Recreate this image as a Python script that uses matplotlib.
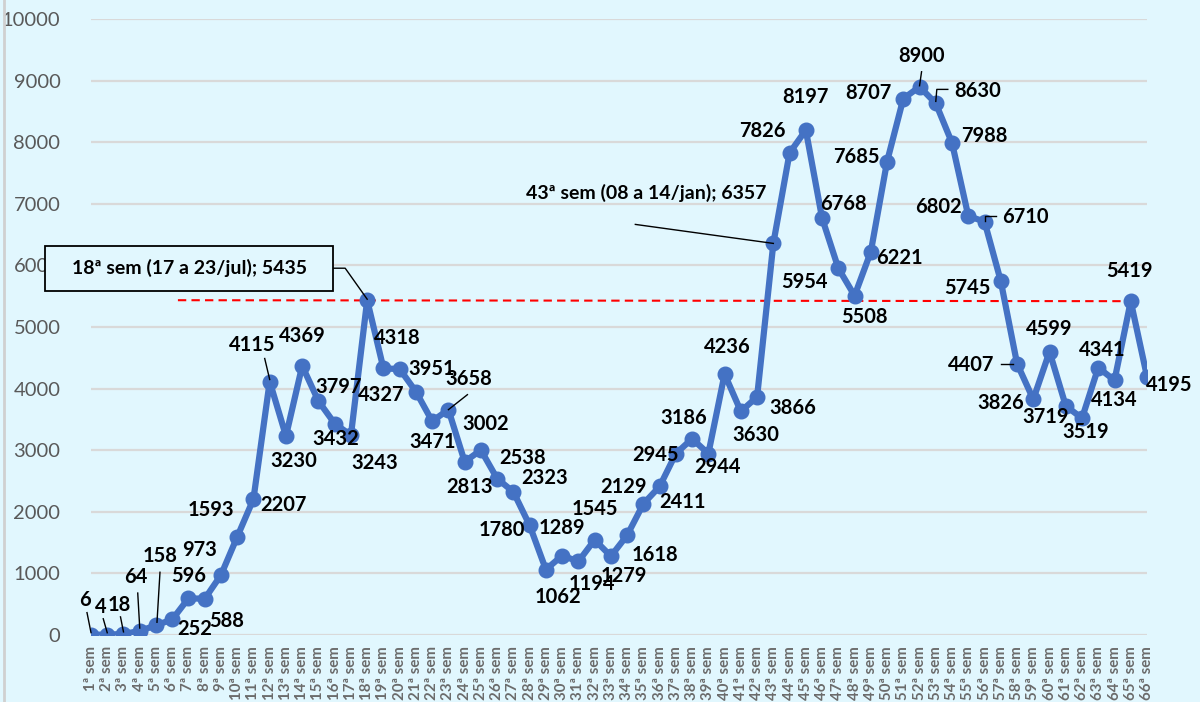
import numpy as np
import matplotlib
matplotlib.use("Agg")
import matplotlib.pyplot as plt
from matplotlib.lines import Line2D
from matplotlib.patches import Rectangle
from matplotlib.transforms import IdentityTransform

plt.rcParams['font.family'] = ['Lato', 'DejaVu Sans']

# weekly values
semanas = [f"{i}ª sem" for i in range(1, 67)]
valores = [6, 4, 18, 64, 158, 252, 596, 588, 973, 1593,
           2207, 4115, 3230, 4369, 3797, 3432, 3243, 5435, 4327, 4318,
           3951, 3471, 3658, 2813, 3002, 2538, 2323, 1780, 1062, 1289,
           1194, 1545, 1279, 1618, 2129, 2411, 2945, 3186, 2944, 4236,
           3630, 3866, 6357, 7826, 8197, 6768, 5954, 5508, 6221, 7685,
           8707, 8900, 8630, 7988, 6802, 6710, 5745, 4407, 3826, 4599,
           3719, 3519, 4341, 4134, 5419, 4195]

# label offsets in pixels (dx, dy up) from each point
offs = [(-6, 35), (-6, 28), (-4, 29), (-4, 54), (4, 69), (22, -10), (0, 22), (22, -22), (-21, 25), (-26, 27),
        (30, -6), (-18, 37), (8, -25), (0, 30), (20, 14), (1, -15), (24, -28), None, (-2, -27), (-2, 31),
        (16, 23), (0, -21), (20, 31), (5, -25), (5, 26), (25, 21), (31, 14), (-28, -5), (12, -27), (0, 28),
        (14, -23), (0, 31), (13, -20), (28, -20), (-20, 17), (23, -16), (-20, -1), (-8, 21), (9, -13), (3, 27),
        (15, -24), (36, -11), None, (-27, 22), (0, 33), (21, 14), (-34, -14), (10, -21), (29, -6), (-31, 5),
        (-35, 6), (2, 31), (42, 12), (32, 7), (-30, 9), (41, 5), (-33, -7), (-46, -1), (-33, -4), (0, 23),
        (-20, -11), (4, -14), (4, 18), (0, -20), (-1, 30), (22, -8)]

# leader lines (pixel offsets from the point)
leaders = {1: [(-4, 22), (0, 2)], 2: [(-4, 16), (0, 2)], 3: [(-3, 17), (0, 2)],
           4: [(-2, 38), (0, 3)], 5: [(4, 53), (1, 3)], 12: [(-5, 23), (0, 2)],
           23: [(19, 15), (0, 0)], 52: [(2, 15), (0, 1)],
           53: [(12, 14), (1, 14), (0, 2)], 56: [(11, 6), (0, 6), (0, 1)],
           58: [(-16, 0), (-4, 0)],
           18: [(-34, 32), (-22, 32), (0, 1)], 43: [(-138, 19), (0, 0)]}

x = np.arange(1, 67)
fig = plt.figure(figsize=(12, 7.02), dpi=100, facecolor='#E1F7FE')
ax = fig.add_axes([91 / 1200, 67 / 702, 1056 / 1200, 616 / 702])
ax.set_facecolor('#E1F7FE')

ax.set_xlim(1, 66)
ax.set_ylim(0, 10000)
ax.set_yticks(np.arange(0, 10001, 1000))
ax.yaxis.grid(True, color='#D9D9D9', linewidth=1.6)
ax.set_axisbelow(True)
for s in ax.spines.values():
    s.set_visible(False)
ax.tick_params(axis='y', length=0, pad=22, labelsize=14.5, labelcolor='#595959')
ax.set_xticks(x)
ax.set_xticklabels(semanas, rotation=90, fontsize=10.8, fontweight='bold', color='#6B6B6B')
ax.tick_params(axis='x', length=0, pad=8)

# reference line at the 18th-week level
ax.plot([6.35, 65.4], [5435, 5419], color='#FF0000', linestyle=(0, (4, 2.5)), linewidth=1.5, zorder=2)

ax.plot(x, valores, color='#4472C4', linewidth=4.5, marker='o', markersize=10.5, zorder=3)

for i, (xi, v) in enumerate(zip(x, valores)):
    if offs[i] is None:
        continue
    ax.annotate(str(v), (xi, v), xytext=offs[i], textcoords='offset pixels',
                ha='center', va='center', fontsize=14.5, fontweight='bold', color='black', zorder=5)

fig.canvas.draw()
for k, pts in leaders.items():
    px, py = ax.transData.transform((k, valores[k - 1]))
    fig.add_artist(Line2D([px + a for a, b in pts], [py + b for a, b in pts],
                          transform=IdentityTransform(), color='black', linewidth=1.0, zorder=6))

# callout for week 18
px, py = ax.transData.transform((18, valores[17]))
fig.add_artist(Rectangle((px - 322, py + 9), 288, 45, transform=IdentityTransform(),
                         facecolor='#E1F7FE', edgecolor='black', linewidth=1.3, zorder=6))
fig.text(px - 178, py + 32, "18ª sem (17 a 23/jul); 5435", transform=IdentityTransform(),
         ha='center', va='center', fontsize=14, fontweight='bold', zorder=7)

# callout for week 43
px, py = ax.transData.transform((43, valores[42]))
fig.text(px - 127, py + 50, "43ª sem (08 a 14/jan); 6357", transform=IdentityTransform(),
         ha='center', va='center', fontsize=14, fontweight='bold', zorder=7)

# chart border on the left
fig.add_artist(Line2D([4, 4], [0, 702], transform=IdentityTransform(), color='#D0D0D0', linewidth=2))

fig.savefig('out.png', dpi=100, facecolor=fig.get_facecolor())
